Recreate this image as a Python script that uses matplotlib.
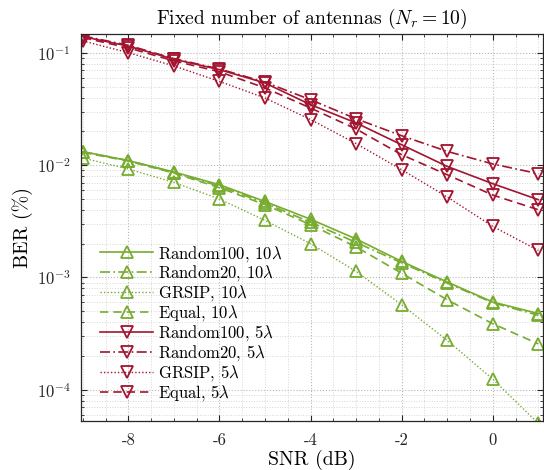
import numpy as np
import matplotlib
matplotlib.use("Agg")
import matplotlib.pyplot as plt
from matplotlib.ticker import MultipleLocator, FuncFormatter, LogLocator, NullFormatter

plt.rcParams['font.family'] = 'serif'
plt.rcParams['font.serif'] = ['cmr10']
plt.rcParams['mathtext.fontset'] = 'cm'
plt.rcParams['axes.unicode_minus'] = False
plt.rcParams['axes.formatter.use_mathtext'] = True

snr = [-9, -8, -7, -6, -5, -4, -3, -2, -1, 0, 1]

# 10 lambda (green)
rand100_10 = [0.0132, 0.0110, 0.0087, 0.0067, 0.00475, 0.0033, 0.0022, 0.00139, 0.00091, 0.000604, 0.000477]
rand20_10 = [0.0132, 0.0110, 0.0086, 0.0065, 0.0046, 0.0031, 0.00205, 0.00135, 0.00089, 0.000595, 0.00046]
grsip_10 = [0.0116, 0.00925, 0.00703, 0.0050, 0.00322, 0.0020, 0.00113, 0.000571, 0.000275, 0.000124, 0.000050]
equal_10 = [0.0130, 0.0109, 0.0085, 0.0063, 0.00445, 0.00295, 0.00187, 0.00109, 0.000632, 0.000387, 0.000256]

# 5 lambda (red)
rand100_5 = [0.140, 0.115, 0.088, 0.071, 0.054, 0.0346, 0.0238, 0.0152, 0.00975, 0.00684, 0.00493]
rand20_5 = [0.142, 0.117, 0.089, 0.072, 0.055, 0.0383, 0.0259, 0.0183, 0.01327, 0.01026, 0.0084]
grsip_5 = [0.128, 0.1006, 0.0766, 0.0558, 0.0397, 0.0255, 0.01556, 0.00912, 0.00521, 0.00285, 0.00174]
equal_5 = [0.137, 0.111, 0.085, 0.068, 0.0488, 0.0323, 0.0210, 0.0124, 0.00822, 0.00542, 0.00401]

labels = [r'Random100, $10\lambda$', r'Random20, $10\lambda$', r'GRSIP, $10\lambda$', r'Equal, $10\lambda$',
          r'Random100, $5\lambda$', r'Random20, $5\lambda$', r'GRSIP, $5\lambda$', r'Equal, $5\lambda$']

green = '#77AC30'
red = '#A2142F'

fig = plt.figure(figsize=(5.44, 4.70), dpi=100)
ax = fig.add_axes([0.148, 0.105, 0.85, 0.823])

styles = ['-', (0, (6, 2, 1, 2)), (0, (1, 1.5)), (0, (5, 3))]
series = [(rand100_10, green, '^'), (rand20_10, green, '^'), (grsip_10, green, '^'), (equal_10, green, '^'),
          (rand100_5, red, 'v'), (rand20_5, red, 'v'), (grsip_5, red, 'v'), (equal_5, red, 'v')]
for i, (vals, c, m) in enumerate(series):
    ax.semilogy(snr, vals, color=c, linestyle=styles[i % 4], marker=m, markersize=8,
                markerfacecolor='none', markeredgewidth=1.3, linewidth=1.2 if i % 4 != 2 else 1.0,
                label=labels[i])

ax.set_xlim(-9.05, 1.1)
ax.set_ylim(5.3e-5, 0.148)
ax.xaxis.set_major_locator(MultipleLocator(2))
ax.xaxis.set_minor_locator(MultipleLocator(0.5))
ax.xaxis.set_major_formatter(FuncFormatter(lambda v, p: f"{v:g}"))
ax.yaxis.set_major_locator(LogLocator(base=10, numticks=10))
ax.yaxis.set_minor_locator(LogLocator(base=10, subs=np.arange(2, 10), numticks=20))
ax.yaxis.set_minor_formatter(NullFormatter())

ax.grid(True, which='major', linestyle=':', color='#b8b8b8', linewidth=0.8)
ax.grid(True, which='minor', linestyle=':', color='#d6d6d6', linewidth=0.7)
ax.tick_params(which='both', direction='in', top=True, right=True, labelsize=12, colors='#262626')
ax.tick_params(axis='x', which='major', pad=9)
ax.tick_params(axis='y', which='major', pad=7)
ax.tick_params(which='major', length=4, width=0.8)
ax.tick_params(which='minor', length=2, width=0.6)
for s in ax.spines.values():
    s.set_color('#262626')
    s.set_linewidth(0.9)

ax.set_xlabel('SNR (dB)', fontsize=14.3, labelpad=1)
ax.set_ylabel('BER (%)', fontsize=14.3, labelpad=3)
ax.set_title(r'Fixed number of antennas ($N_r = 10$)', fontsize=14.1, pad=7)

ax.legend(loc='upper left', bbox_to_anchor=(0.028, 0.475), frameon=False, fontsize=12,
          handlelength=3.2, handletextpad=0.3, labelspacing=0.0, borderaxespad=0)

fig.savefig('out.png', dpi=100)
